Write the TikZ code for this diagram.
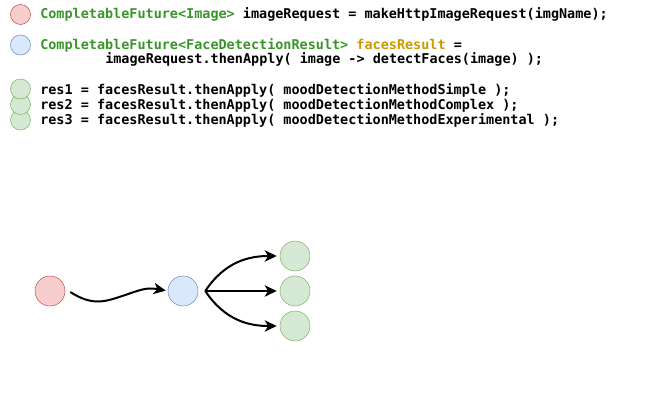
\documentclass[tikz,border=0pt]{standalone}
\usepackage{fontspec}
\setmonofont{DejaVu Sans Mono}
\usetikzlibrary{arrows.meta}
\definecolor{redfill}{HTML}{F8CECC}
\definecolor{reddraw}{HTML}{B85450}
\definecolor{bluefill}{HTML}{DAE8FC}
\definecolor{bluedraw}{HTML}{6C8EBF}
\definecolor{greenfill}{HTML}{D5E8D4}
\definecolor{greendraw}{HTML}{82B366}
\definecolor{typegreen}{RGB}{56,150,40}
\definecolor{varorange}{RGB}{204,153,0}
\newcommand{\ty}[1]{\textcolor{typegreen}{#1}}
\begin{document}
\begin{tikzpicture}[x=0.75pt,y=-0.75pt,
  redball/.style={circle,draw=reddraw,fill=redfill,minimum size=#1,inner sep=0pt},
  blueball/.style={circle,draw=bluedraw,fill=bluefill,minimum size=#1,inner sep=0pt},
  greenball/.style={circle,draw=greendraw,fill=greenfill,minimum size=#1,inner sep=0pt},
  codeline/.style={anchor=west,inner sep=0pt,font=\ttfamily\bfseries\fontsize{10.1pt}{12pt}\selectfont},
  flow/.style={line width=1.5pt,-{Stealth[length=9pt,width=8.5pt,inset=2.5pt]}}]
\useasboundingbox (0,0) rectangle (649,406);
% legend
\node[redball=15pt] (keyred) at (20.5,14.5) {};
\node[blueball=15pt] (keyblue) at (20.5,45) {};
\node[greenball=15pt] (keygreenc) at (20.5,120) {};
\node[greenball=15pt] (keygreenb) at (20.5,104.5) {};
\node[greenball=15pt] (keygreena) at (20.5,89) {};
\node[codeline] (line1) at (40,14) {\ty{CompletableFuture<Image>} imageRequest = makeHttpImageRequest(imgName);};
\node[codeline] (line2) at (40,45) {\ty{CompletableFuture<FaceDetectionResult>} \textcolor{varorange}{facesResult} =};
\node[codeline] (line3) at (105,59) {imageRequest.thenApply( image -> detectFaces(image) );};
\node[codeline] (line4) at (40,90) {res1 = facesResult.thenApply( moodDetectionMethodSimple );};
\node[codeline] (line5) at (40,105) {res2 = facesResult.thenApply( moodDetectionMethodComplex );};
\node[codeline] (line6) at (40,120) {res3 = facesResult.thenApply( moodDetectionMethodExperimental );};
% flow
\node[redball=22.5pt] (image) at (50,291) {};
\node[blueball=22.5pt] (faces) at (183,291) {};
\node[greenball=22.5pt] (res1) at (295,256) {};
\node[greenball=22.5pt] (res2) at (295,291) {};
\node[greenball=22.5pt] (res3) at (295,326) {};
\draw[flow,shorten >=1.5pt] ([xshift=3.75pt,yshift=-0.75pt]image.east) .. controls +(22,14) and +(-18,6) .. ++(52,4)
  .. controls +(18,-6) and +(-22,-4) .. (faces.west);
\draw[flow,shorten >=2.25pt] ([xshift=5.25pt]faces.east) .. controls +(20,-30) and +(-30,0) .. (res1.west);
\draw[flow,shorten >=2.25pt] ([xshift=5.25pt]faces.east) -- (res2.west);
\draw[flow,shorten >=2.25pt] ([xshift=5.25pt]faces.east) .. controls +(20,30) and +(-30,0) .. (res3.west);
\end{tikzpicture}
\end{document}
